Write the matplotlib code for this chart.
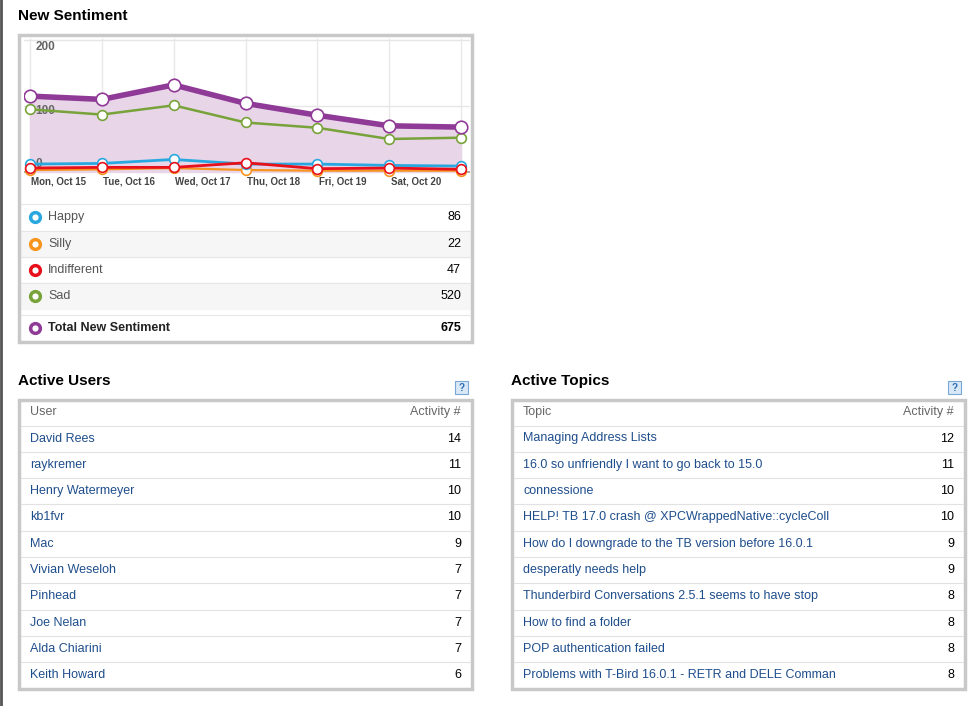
import matplotlib
matplotlib.use("Agg")
import matplotlib.pyplot as plt
from matplotlib.patches import Rectangle

plt.rcParams['font.family'] = ['Liberation Sans', 'DejaVu Sans']

days = ["Mon, Oct 15", "Tue, Oct 16", "Wed, Oct 17", "Thu, Oct 18", "Fri, Oct 19", "Sat, Oct 20", ""]
happy = [12, 13, 19, 12, 12, 10, 9]
silly = [3, 4, 6, 3, 2, 2, 2]
indiff = [6, 7, 7, 14, 5, 6, 4]
sad = [95, 87, 101, 75, 67, 50, 52]
total = [115, 110, 132, 104, 86, 70, 68]

legend_names = ["Happy", "Silly", "Indifferent", "Sad", "Total New Sentiment"]
legend_vals = [86, 22, 47, 520, 675]
legend_cols = ["#29a8df", "#f7941d", "#e8101a", "#77a33a", "#8e3a96"]

users = ["David Rees", "raykremer", "Henry Watermeyer", "kb1fvr", "Mac", "Vivian Weseloh",
         "Pinhead", "Joe Nelan", "Alda Chiarini", "Keith Howard"]
user_act = [14, 11, 10, 10, 9, 7, 7, 7, 7, 6]
topics = ["Managing Address Lists", "16.0 so unfriendly I want to go back to 15.0", "connessione",
          "HELP! TB 17.0 crash @ XPCWrappedNative::cycleColl", "How do I downgrade to the TB version before 16.0.1",
          "desperatly needs help", "Thunderbird Conversations 2.5.1 seems to have stop", "How to find a folder",
          "POP authentication failed", "Problems with T-Bird 16.0.1 - RETR and DELE Comman"]
topic_act = [12, 11, 10, 10, 9, 9, 8, 8, 8, 8]

W, H = 975, 706
fig = plt.figure(figsize=(W/100, H/100), dpi=100)
bg = fig.add_axes([0, 0, 1, 1])
bg.set_xlim(0, W); bg.set_ylim(H, 0); bg.axis('off')

link = "#1f4e8c"
def box(x0, y0, x1, y1):
    bg.add_patch(Rectangle((x0, y0), x1-x0, y1-y0, fill=False, ec="#c8c8c8", lw=2.5, zorder=1))

bg.plot([1, 1], [0, H], color="#555555", lw=2)

# Sentiment panel
bg.text(18, 16, "New Sentiment", fontsize=11, fontweight='bold', va='center')
box(19, 35, 472, 342)
rows_y = [217, 244, 270, 296, 328]
for i, (n, v, c, y) in enumerate(zip(legend_names, legend_vals, legend_cols, rows_y)):
    if i in (1, 3):
        bg.add_patch(Rectangle((21, y-13), 449, 26, color="#f6f6f6", zorder=0))
    bg.plot([21, 470], [y-13, y-13], color="#e6e6e6", lw=0.8)
    bg.plot(35, y, 'o', ms=7, mfc='white', mec=c, mew=2.5)
    bold = 'bold' if i == 4 else 'normal'
    bg.text(48, y, n, fontsize=9, va='center', fontweight=bold, color='#222' if i == 4 else '#555')
    bg.text(461, y, str(v), fontsize=9, va='center', ha='right', fontweight=bold)

# Chart axes: x pixels 24..470, y pixels 38..205
ppx = (461-30)/6
x0 = -(30-24)/ppx; x1 = 6 + (470-461)/ppx
ppy = 0.66
top_v = (172-38)/ppy
bot_v = -(205-172)/ppy
ax = fig.add_axes([24/W, 1-205/H, (470-24)/W, (205-38)/H])
ax.set_xlim(x0, x1); ax.set_ylim(bot_v, top_v)
ax.axis('off')
xs = list(range(7))
ax.vlines(xs, 0, top_v, color="#e8e8e8", lw=1, zorder=0)
for y in (100, 200):
    ax.axhline(y, color="#e6e6e6", lw=1, zorder=0)
ax.axhline(0, color="#999999", lw=1.2, zorder=1)
ax.fill_between(xs, 0, total, color="#e8d5e8", zorder=1)
for data, c, lw in [(sad, legend_cols[3], 1.8), (silly, legend_cols[1], 1.6), (happy, legend_cols[0], 2),
                    (indiff, legend_cols[2], 2), (total, legend_cols[4], 4)]:
    ax.plot(xs, data, color=c, lw=lw, zorder=3, marker='o', ms=9 if lw == 4 else 7,
            mfc='white', mec=c, mew=1.2)
for v, lab in [(190, "200"), (92, "100"), (12, "0")]:
    ax.text(0.08, v, lab, fontsize=8.5, fontweight='bold', color='#666', va='center', zorder=2)
for x, d in zip(xs, days):
    ax.text(x + 0.02, -14, d, fontsize=7, fontweight='bold', color='#444', va='center')

# Tables
def table(x0, x1, title, head, items, vals):
    bg.text(x0, 381, title, fontsize=11, fontweight='bold', va='center')
    bg.add_patch(Rectangle((x1-17, 381), 13, 13, color="#d9e8f7", ec="#7aa7d6", lw=0.8))
    bg.text(x1-10.5, 388, "?", fontsize=7, fontweight='bold', color="#2a6cb5", ha='center', va='center')
    box(x0+1, 400, x1, 689)
    bg.text(x0+12, 412, head, fontsize=9, color='#666', va='center')
    bg.text(x1-11, 412, "Activity #", fontsize=9, color='#666', va='center', ha='right')
    for i, (n, v) in enumerate(zip(items, vals)):
        y = 438.5 + i*26.3
        bg.plot([x0+3, x1-2], [y-13, y-13], color="#e2e2e2", lw=0.8)
        bg.text(x0+12, y, n, fontsize=9, color=link, va='center')
        bg.text(x1-11, y, str(v), fontsize=9, va='center', ha='right')

table(18, 472, "Active Users", "User", users, user_act)
table(511, 965, "Active Topics", "Topic", topics, topic_act)

fig.savefig("out.png", dpi=100)
